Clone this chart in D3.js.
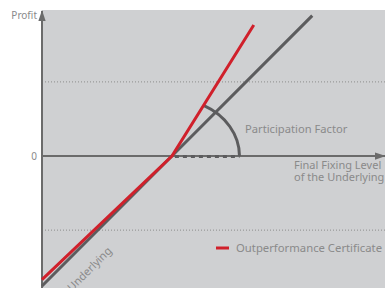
<!DOCTYPE html>
<html>
<head>
<meta charset="utf-8">
<script src="https://cdn.jsdelivr.net/npm/d3@7"></script>
<style>
  body { margin: 0; background: #fff; }
  text { font-family: "Noto Sans", sans-serif; fill: #8a8a8a; }
</style>
</head>
<body>
<div id="container"></div>
<script>
// values (underlying level in % of strike, profit in %)
var strike = 100;
var underlying = [[0, -100], [100, 0], [208, 108]];
var certificate = [[0, -95], [100, 0], [163, 100.8]];
var gridLevels = [57, -57];
var participationArc = { rx: 52, ry: 44 };
var legendLabel = "Outperformance Certificate";

var width = 385, height = 288;
var plotLeft = 42, plotTop = 10;

var svg = d3.select("#container").append("svg")
    .attr("width", width)
    .attr("height", height);

var x = d3.scaleLinear().domain([0, 264]).range([plotLeft, width]);
var y = d3.scaleLinear().domain([-101.5, 112.3]).range([height, plotTop]);

var axisColor = "#6b6b6b",
    grey = "#5c5c5e",
    red = "#d0202b";

// arrow heads
var defs = svg.append("defs");
defs.append("marker")
    .attr("id", "arrow")
    .attr("viewBox", "0 0 12 8")
    .attr("refX", 11).attr("refY", 4)
    .attr("markerWidth", 5.5).attr("markerHeight", 4)
    .attr("markerUnits", "strokeWidth")
    .attr("orient", "auto")
  .append("path")
    .attr("d", "M0,0 L12,4 L0,8 z")
    .attr("fill", axisColor);

// plot background
svg.append("rect")
    .attr("x", plotLeft)
    .attr("y", plotTop)
    .attr("width", width - plotLeft)
    .attr("height", height - plotTop)
    .attr("fill", "#cfd0d2");

// dotted grid lines
svg.selectAll(".grid")
    .data(gridLevels)
  .enter().append("line")
    .attr("class", "grid")
    .attr("x1", plotLeft).attr("x2", width)
    .attr("y1", function(d) { return y(d); })
    .attr("y2", function(d) { return y(d); })
    .attr("stroke", "#8c8c8c")
    .attr("stroke-width", 1)
    .attr("stroke-dasharray", "1,2");

var line = d3.line()
    .x(function(d) { return x(d[0]); })
    .y(function(d) { return y(d[1]); });

// axes
svg.append("line")
    .attr("x1", plotLeft).attr("x2", width)
    .attr("y1", y(0)).attr("y2", y(0))
    .attr("stroke", axisColor)
    .attr("stroke-width", 2)
    .attr("marker-end", "url(#arrow)");

svg.append("line")
    .attr("x1", plotLeft).attr("x2", plotLeft)
    .attr("y1", height).attr("y2", plotTop + 1)
    .attr("stroke", axisColor)
    .attr("stroke-width", 2)
    .attr("marker-end", "url(#arrow)");

// dashed horizontal from strike to arc end
svg.append("line")
    .attr("x1", x(strike) + 3).attr("x2", x(strike + participationArc.rx))
    .attr("y1", y(0) + 0.5).attr("y2", y(0) + 0.5)
    .attr("stroke", grey)
    .attr("stroke-width", 3)
    .attr("stroke-dasharray", "4,4");

// participation arc (quarter ellipse from x axis up to the certificate line)
var rxPx = x(strike + participationArc.rx) - x(strike),
    ryPx = y(0) - y(participationArc.ry);
var slopePx = (y(certificate[1][1]) - y(certificate[2][1])) / (x(certificate[2][0]) - x(certificate[1][0]));
var dx = 1 / Math.sqrt(1 / (rxPx * rxPx) + (slopePx * slopePx) / (ryPx * ryPx));
var arcStart = [x(strike) + dx, y(0) - slopePx * dx];
svg.append("path")
    .attr("d", "M" + arcStart[0] + "," + arcStart[1] +
      " A" + rxPx + "," + ryPx + " 0 0 1 " + (x(strike) + rxPx) + "," + y(0))
    .attr("fill", "none")
    .attr("stroke", grey)
    .attr("stroke-width", 3);

// underlying
svg.append("path")
    .datum(underlying)
    .attr("d", line)
    .attr("fill", "none")
    .attr("stroke", grey)
    .attr("stroke-width", 3);

// certificate
svg.append("path")
    .datum(certificate)
    .attr("d", line)
    .attr("fill", "none")
    .attr("stroke", red)
    .attr("stroke-width", 3);

// labels
svg.append("text")
    .attr("x", 37).attr("y", 19)
    .attr("text-anchor", "end")
    .style("font-size", "10px")
    .text("Profit");

svg.append("text")
    .attr("x", 37).attr("y", y(0) + 3.5)
    .attr("text-anchor", "end")
    .style("font-size", "10px")
    .text("0");

svg.append("text")
    .attr("x", 245).attr("y", 133)
    .style("font-size", "11.2px")
    .text("Participation Factor");

svg.append("text")
    .attr("x", 294).attr("y", 169)
    .style("font-size", "11px")
    .text("Final Fixing Level");

svg.append("text")
    .attr("x", 294).attr("y", 181)
    .style("font-size", "11px")
    .text("of the Underlying");

svg.append("text")
    .attr("transform", "translate(72,292) rotate(-45)")
    .style("font-size", "11px")
    .text("Underlying");

// legend
svg.append("line")
    .attr("x1", 216).attr("x2", 229)
    .attr("y1", 248).attr("y2", 248)
    .attr("stroke", red)
    .attr("stroke-width", 3);

svg.append("text")
    .attr("x", 236).attr("y", 252)
    .style("font-size", "11.3px")
    .text(legendLabel);
</script>
</body>
</html>
